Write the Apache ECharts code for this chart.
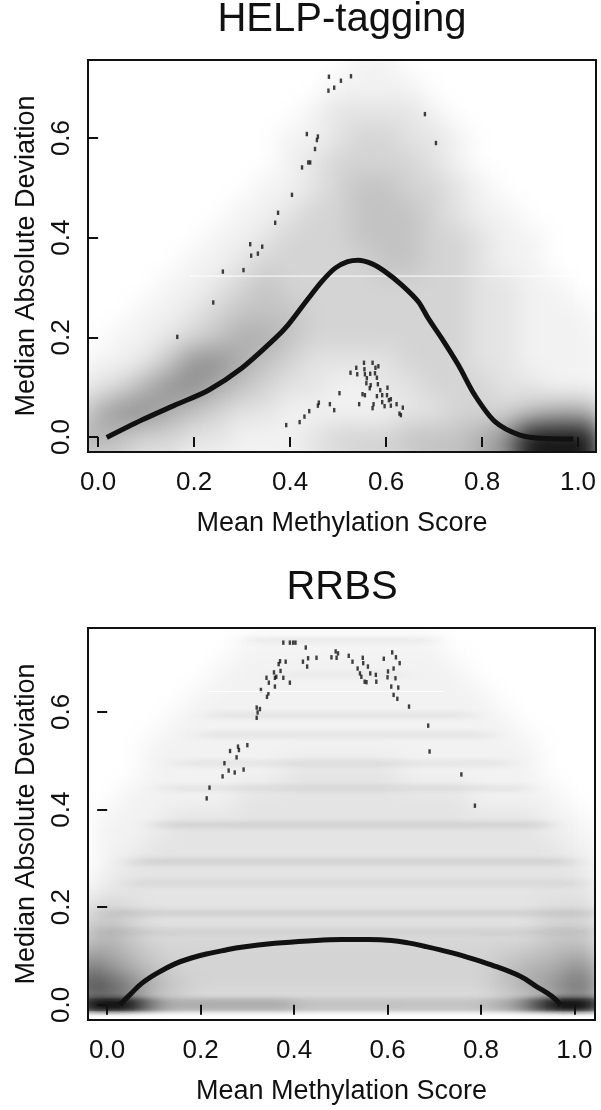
<!DOCTYPE html>
<html>
<head>
<meta charset="utf-8">
<title>HELP-tagging / RRBS</title>
<script src="https://cdn.jsdelivr.net/npm/echarts@6.0.0/dist/echarts.min.js"></script>
<style>
  html, body { margin: 0; padding: 0; background: #fff; }
  #wrap { position: relative; width: 601px; height: 1110px; }
  .layer { position: absolute; left: 0; top: 0; width: 601px; height: 1110px; }
  /* smoothScatter look: soft density underneath, crisp axes on top */
  #shade { filter: blur(12px); clip-path: path('M88 60H596V452H88ZM88 628H595V1011H88Z'); }
  #bands { filter: url(#streak); clip-path: path('M88 628H595V1020H88Z'); }
</style>
</head>
<body>
<svg width="0" height="0" style="position:absolute">
  <filter id="streak" x="-10%" y="-10%" width="120%" height="120%">
    <feGaussianBlur stdDeviation="12 2.5"/>
  </filter>
</svg>
<div id="wrap">
  <div id="shade" class="layer"></div>
  <div id="bands" class="layer"></div>
  <div id="main" class="layer"></div>
</div>
<script>
// ---- data ----
const xTicks = [0, 0.2, 0.4, 0.6, 0.8, 1.0]
const yTicks = [0, 0.2, 0.4, 0.6]

// density shade, one digit per cell (0 white .. 9 black), top row first
const shadeCols = [-0.05, 0, 0.05, 0.1, 0.15, 0.2, 0.25, 0.3, 0.35, 0.4, 0.45, 0.5,
  0.55, 0.6, 0.65, 0.7, 0.75, 0.8, 0.85, 0.9, 0.95, 1.0, 1.05]

const helpRows = [0.75, 0.7, 0.65, 0.6, 0.55, 0.5, 0.45, 0.4, 0.35, 0.3, 0.25, 0.2, 0.15, 0.1, 0.05, 0, -0.05]
const helpShade = [
  '00000000000011000000000',
  '00000000000111100000000',
  '00000000001222210000000',
  '00000000011233221000000',
  '00000000012333321000000',
  '00000000112344332100000',
  '00000001123344432110000',
  '00000011233344433211000',
  '00000112333334433211000',
  '00001123433333333221100',
  '00011234443333333221110',
  '00112345543333333221111',
  '01124665432222333221111',
  '12356654322112233322111',
  '25665432211111223334555',
  '45433221112333444569999',
  '33322111112233344569999'
]

const rrbsRows = [0.775, 0.725, 0.675, 0.625, 0.575, 0.525, 0.475, 0.425, 0.375, 0.325, 0.275, 0.225, 0.175, 0.125, 0.075, 0.025]
const rrbsShade = [
  '00000000000000000000000',
  '00000001111111110000000',
  '00000011111111111000000',
  '00000111111111111100000',
  '00001111111111111110000',
  '00011111111111111111000',
  '00011111122222111111000',
  '00111112222222222111100',
  '01112222222222222222110',
  '01122222222222222222211',
  '01222222222222222222221',
  '12222222222222222222222',
  '34322222222222222222333',
  '45433333333333333333444',
  '76543333333333333345566',
  '88754333333333333345677'
]

// RRBS horizontal streaks [x0, x1, y, darkness] and the band at MAD = 0
const rrbsStripes = [
  [0.30, 0.70, 0.747, 2], [0.36, 0.64, 0.676, 1], [0.22, 0.78, 0.594, 2],
  [0.20, 0.82, 0.553, 2], [0.15, 0.86, 0.495, 2], [0.12, 0.90, 0.444, 2],
  [0.10, 0.95, 0.369, 3], [0.05, 1.00, 0.293, 3], [0.05, 1.02, 0.249, 2],
  [0.00, 1.05, 0.188, 3], [-0.02, 1.05, 0.150, 2]
]
const rrbsBase = [
  [-0.06, 0.08, 0, 9], [0.08, 0.11, 0, 7], [0.11, 0.15, 0, 5], [0.15, 0.40, 0, 5],
  [0.40, 0.62, 0, 4], [0.62, 0.82, 0, 4], [0.82, 0.88, 0, 5], [0.88, 0.92, 0, 7],
  [0.92, 1.06, 0, 9]
]

// lowess fits
const helpFit = [[0.018, -0.001], [0.091, 0.034], [0.160, 0.064], [0.230, 0.094], [0.299, 0.138],
  [0.369, 0.198], [0.396, 0.225], [0.438, 0.278], [0.466, 0.312], [0.494, 0.339], [0.520, 0.352],
  [0.542, 0.355], [0.570, 0.348], [0.598, 0.332], [0.633, 0.305], [0.667, 0.272], [0.688, 0.238],
  [0.716, 0.198], [0.751, 0.144], [0.785, 0.084], [0.827, 0.031], [0.879, 0.004], [0.930, -0.003],
  [0.990, -0.004]]
const rrbsFit = [[0.027, 0.0], [0.050, 0.022], [0.074, 0.044], [0.109, 0.066], [0.145, 0.084],
  [0.180, 0.096], [0.216, 0.105], [0.252, 0.112], [0.287, 0.118], [0.359, 0.126], [0.430, 0.131],
  [0.501, 0.134], [0.560, 0.134], [0.608, 0.132], [0.644, 0.127], [0.679, 0.120], [0.715, 0.112],
  [0.770, 0.098], [0.822, 0.082], [0.883, 0.059], [0.918, 0.038], [0.951, 0.018], [0.971, 0.0]]

// sparse points drawn by smoothScatter
const helpOutliers = [[0.481, 0.723], [0.506, 0.715], [0.527, 0.724], [0.492, 0.701], [0.480, 0.695],
  [0.681, 0.648], [0.704, 0.590], [0.435, 0.608], [0.458, 0.603], [0.456, 0.596], [0.452, 0.578],
  [0.438, 0.551], [0.442, 0.551], [0.425, 0.541], [0.404, 0.486], [0.375, 0.450], [0.369, 0.430],
  [0.317, 0.387], [0.342, 0.382], [0.333, 0.368], [0.319, 0.364], [0.303, 0.335], [0.260, 0.332],
  [0.240, 0.270], [0.165, 0.201],
  [0.554, 0.149], [0.572, 0.149], [0.584, 0.142], [0.578, 0.139], [0.538, 0.139], [0.526, 0.129],
  [0.540, 0.126], [0.555, 0.136], [0.556, 0.126], [0.567, 0.127], [0.560, 0.118], [0.577, 0.128],
  [0.581, 0.119], [0.559, 0.108], [0.568, 0.104], [0.583, 0.106], [0.566, 0.098], [0.588, 0.094],
  [0.603, 0.099], [0.551, 0.086], [0.556, 0.084], [0.581, 0.082], [0.592, 0.084], [0.602, 0.084],
  [0.610, 0.076], [0.606, 0.074], [0.503, 0.088], [0.544, 0.066], [0.574, 0.066], [0.572, 0.058],
  [0.592, 0.070], [0.597, 0.062], [0.610, 0.063], [0.622, 0.066], [0.635, 0.059], [0.628, 0.047],
  [0.631, 0.044], [0.460, 0.069], [0.458, 0.063], [0.483, 0.066], [0.492, 0.054], [0.440, 0.052],
  [0.430, 0.041], [0.420, 0.030], [0.392, 0.024]]
const rrbsOutliers = [[0.377, 0.742], [0.391, 0.742], [0.398, 0.742], [0.403, 0.742], [0.425, 0.732],
  [0.370, 0.704], [0.382, 0.703], [0.367, 0.698], [0.371, 0.684], [0.357, 0.681], [0.362, 0.672],
  [0.359, 0.670], [0.341, 0.670], [0.377, 0.670], [0.346, 0.660], [0.391, 0.660], [0.359, 0.652],
  [0.329, 0.645], [0.345, 0.638], [0.342, 0.631], [0.320, 0.609], [0.327, 0.606], [0.322, 0.599],
  [0.320, 0.588], [0.430, 0.710], [0.419, 0.703], [0.428, 0.693], [0.448, 0.711], [0.480, 0.712],
  [0.489, 0.724], [0.494, 0.720], [0.491, 0.711], [0.517, 0.715], [0.525, 0.703], [0.547, 0.711],
  [0.548, 0.700], [0.536, 0.689], [0.541, 0.679], [0.558, 0.693], [0.544, 0.672], [0.551, 0.662],
  [0.555, 0.661], [0.563, 0.679], [0.575, 0.676], [0.576, 0.662], [0.592, 0.709], [0.610, 0.722],
  [0.618, 0.712], [0.613, 0.689], [0.626, 0.700], [0.601, 0.683], [0.600, 0.671], [0.617, 0.669],
  [0.608, 0.652], [0.623, 0.650], [0.613, 0.635], [0.621, 0.627], [0.646, 0.611], [0.687, 0.572],
  [0.690, 0.519], [0.758, 0.472], [0.787, 0.408], [0.263, 0.520], [0.280, 0.529], [0.282, 0.522],
  [0.300, 0.532], [0.277, 0.507], [0.251, 0.495], [0.260, 0.480], [0.273, 0.476], [0.292, 0.482],
  [0.247, 0.468], [0.219, 0.445], [0.213, 0.423]]

// thin white seams left in the raster image
const helpSeam = [[0.19, 0.323], [1.035, 0.323]]
const rrbsSeam = [[0.216, 0.642], [0.722, 0.642]]

// ---- layout ----
const FONT = "'Liberation Sans', Arial, Helvetica, sans-serif"
const INK = '#111'
const shades = ['#ffffff', '#f2f2f2', '#e4e4e4', '#d4d4d4', '#c3c3c3', '#afafaf', '#919191', '#6e6e6e', '#464646', '#161616']
const boxes = [
  { left: 88, top: 60, width: 508, height: 392 },
  { left: 88, top: 628, width: 507, height: 392 }
]
const xRange = [[-0.021, 1.0375], [-0.041, 1.044]]
const yRange = [[-0.030, 0.7566], [-0.031, 0.772]]

function hiddenAxes(dim) {
  const r = dim === 'x' ? xRange : yRange
  return [0, 1].map(i => ({ type: 'value', gridIndex: i, min: r[i][0], max: r[i][1], show: false }))
}

function cellSeries(idx, rows, grid) {
  const data = []
  rows.forEach((y, r) => {
    shadeCols.forEach((x, c) => data.push([x, y, +grid[r][c]]))
  })
  return {
    type: 'custom',
    xAxisIndex: idx,
    yAxisIndex: idx,
    silent: true,
    data: data,
    renderItem: function(params, api) {
      const a = api.coord([api.value(0) - 0.025, api.value(1) + 0.025])
      const b = api.coord([api.value(0) + 0.025, api.value(1) - 0.025])
      return {
        type: 'rect',
        shape: { x: a[0], y: a[1], width: b[0] - a[0] + 1, height: b[1] - a[1] + 1 },
        style: { fill: shades[api.value(2)] }
      }
    }
  }
}

function streakSeries(data, thick, opaque) {
  return {
    type: 'custom',
    xAxisIndex: 1,
    yAxisIndex: 1,
    silent: true,
    encode: { x: [0, 1], y: 2 },
    data: data,
    renderItem: function(params, api) {
      const a = api.coord([api.value(0), api.value(2)])
      const b = api.coord([api.value(1), api.value(2)])
      const lv = api.value(3)
      return {
        type: 'rect',
        shape: { x: a[0], y: a[1] - thick / 2, width: b[0] - a[0], height: thick },
        style: { fill: opaque ? shades[lv] : 'rgba(0,0,0,' + (lv * 0.03) + ')' }
      }
    }
  }
}

const shade = echarts.init(document.getElementById('shade'))
shade.setOption({
  animation: false,
  grid: boxes,
  xAxis: hiddenAxes('x'),
  yAxis: hiddenAxes('y'),
  series: [cellSeries(0, helpRows, helpShade), cellSeries(1, rrbsRows, rrbsShade)]
})

const bands = echarts.init(document.getElementById('bands'))
bands.setOption({
  animation: false,
  grid: boxes,
  xAxis: hiddenAxes('x'),
  yAxis: hiddenAxes('y'),
  series: [streakSeries(rrbsStripes, 6, false), streakSeries(rrbsBase, 14, true)]
})

const main = echarts.init(document.getElementById('main'))
const titleStyle = { fontFamily: FONT, fontSize: 40, fontWeight: 'normal', color: INK }
const labelStyle = { fontFamily: FONT, fontSize: 26, color: INK }
const nameStyle = { fontFamily: FONT, fontSize: 27, color: INK }
const tickStyle = { length: 10, lineStyle: { color: INK, width: 2 } }

main.setOption({
  animation: false,
  title: [
    { text: 'HELP-tagging', left: 342, top: 0, textAlign: 'center', padding: 0, textStyle: titleStyle },
    { text: 'RRBS', left: 342, top: 568, textAlign: 'center', padding: 0, textStyle: titleStyle }
  ],
  grid: boxes.map(b => Object.assign({ show: true, borderColor: INK, borderWidth: 2, backgroundColor: 'transparent' }, b)),
  xAxis: [0, 1].map(i => ({
    type: 'value',
    gridIndex: i,
    min: xRange[i][0],
    max: xRange[i][1],
    name: 'Mean Methylation Score',
    nameLocation: 'middle',
    nameGap: 58,
    nameTextStyle: nameStyle,
    axisLine: { show: false },
    axisTick: Object.assign({ customValues: xTicks }, tickStyle),
    axisLabel: Object.assign({ customValues: xTicks, margin: 18, formatter: v => v.toFixed(1) }, labelStyle),
    splitLine: { show: false }
  })),
  yAxis: [0, 1].map(i => ({
    type: 'value',
    gridIndex: i,
    min: yRange[i][0],
    max: yRange[i][1],
    name: 'Median Absolute Deviation',
    nameLocation: 'middle',
    nameRotate: 90,
    nameGap: 48,
    nameTextStyle: nameStyle,
    axisLine: { show: false },
    axisTick: Object.assign({ customValues: yTicks }, tickStyle),
    axisLabel: Object.assign({ customValues: yTicks, margin: 13, rotate: 90, formatter: v => v.toFixed(1) }, labelStyle),
    splitLine: { show: false }
  })),
  series: [
    { type: 'line', xAxisIndex: 0, yAxisIndex: 0, data: helpSeam, symbol: 'none', silent: true,
      lineStyle: { color: '#fff', width: 1 } },
    { type: 'line', xAxisIndex: 1, yAxisIndex: 1, data: rrbsSeam, symbol: 'none', silent: true,
      lineStyle: { color: '#fff', width: 1 } },
    { type: 'scatter', xAxisIndex: 0, yAxisIndex: 0, data: helpOutliers, symbol: 'rect',
      symbolSize: [2.4, 4.4], itemStyle: { color: INK } },
    { type: 'scatter', xAxisIndex: 1, yAxisIndex: 1, data: rrbsOutliers, symbol: 'rect',
      symbolSize: [2.4, 4.4], itemStyle: { color: INK } },
    { type: 'line', xAxisIndex: 0, yAxisIndex: 0, data: helpFit, smooth: 0.3, symbol: 'none',
      lineStyle: { color: INK, width: 5 } },
    { type: 'line', xAxisIndex: 1, yAxisIndex: 1, data: rrbsFit, smooth: 0.4, symbol: 'none',
      lineStyle: { color: INK, width: 5 } }
  ]
})
</script>
</body>
</html>
